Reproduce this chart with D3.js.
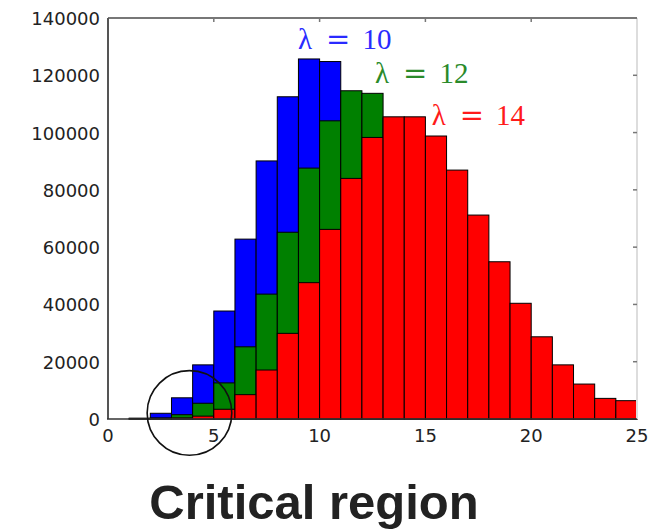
<!DOCTYPE html>
<html>
<head>
<meta charset="utf-8">
<script src="https://cdn.jsdelivr.net/npm/d3@7"></script>
<style>
  body { margin: 0; background: #fff; }
  svg { display: block; }
</style>
</head>
<body>
<div id="chart"></div>
<script>
// histogram bins (left edges, width 1)
var bins = d3.range(0, 25);

// counts per bin (hidden parts estimated)
var lam10 = [0, 300, 2000, 7400, 18900, 37700, 62800, 90100, 112500, 125700, 124800, 113700, 94800, 72900, 52100, 34700, 21700, 12800, 7100, 3700, 1900, 900, 400, 200, 100];
var lam12 = [0, 80, 400, 1500, 5500, 12600, 25200, 43600, 65200, 87600, 104100, 114600, 113700, 105000, 90000, 72000, 54000, 38000, 25500, 16000, 9600, 5500, 3000, 1600, 1100];
var lam14 = [0, 10, 80, 400, 1000, 3400, 8500, 17100, 29900, 47600, 66200, 84000, 98300, 105500, 105500, 98800, 86900, 71200, 54900, 40400, 28700, 18900, 12200, 7200, 6400];

var seriesNames = ["\u03bb = 10", "\u03bb = 12", "\u03bb = 14"];
var seriesColors = ["#0000ff", "#008000", "#ff0000"];
var labelColors = ["#2a2aff", "#2a8a2a", "#ff1a1a"];
// label anchor (data units)
var labelX = [8.98, 12.62, 15.3];
var labelY = [129200, 117300, 102700];

var xTicks = [0, 5, 10, 15, 20, 25];
var yTicks = [0, 20000, 40000, 60000, 80000, 100000, 120000, 140000];

var W = 661, H = 531;
var svg = d3.select("#chart").append("svg").attr("width", W).attr("height", H);
svg.append("rect").attr("width", W).attr("height", H).style("fill", "#fff");

var x = d3.scaleLinear().domain([0, 25]).range([108, 637]);
var y = d3.scaleLinear().domain([0, 140000]).range([419, 18]);

// bars: blue behind, red in front
var all = [lam10, lam12, lam14];
all.forEach(function(vals, si) {
  svg.append("g").selectAll("rect").data(bins).enter()
    .append("rect")
    .attr("x", function(d) { return x(d); })
    .attr("width", function(d) { return x(d + 1) - x(d); })
    .attr("y", function(d) { return y(vals[d]); })
    .attr("height", function(d) { return y(0) - y(vals[d]); })
    .style("fill", seriesColors[si])
    .style("stroke", "#000").style("stroke-width", 1)
    .style("display", function(d) { return vals[d] > 0 ? null : "none"; });
});

// frame
svg.append("line").attr("x1", x(25)).attr("x2", x(25)).attr("y1", y(140000)).attr("y2", y(0))
  .style("stroke", "#ddd").style("stroke-width", 2);
svg.append("line").attr("x1", x(0)).attr("x2", x(25)).attr("y1", y(140000)).attr("y2", y(140000))
  .style("stroke", "#777").style("stroke-width", 2);
svg.append("line").attr("x1", x(0)).attr("x2", x(0)).attr("y1", y(140000)).attr("y2", y(0))
  .style("stroke", "#555").style("stroke-width", 2);
svg.append("line").attr("x1", x(0) - 1).attr("x2", x(25)).attr("y1", y(0)).attr("y2", y(0))
  .style("stroke", "#333").style("stroke-width", 1.5);

// inward ticks on top and right
svg.append("g").selectAll("line").data(xTicks.slice(1, -1)).enter().append("line")
  .attr("x1", function(d) { return x(d); }).attr("x2", function(d) { return x(d); })
  .attr("y1", y(140000)).attr("y2", y(140000) + 4)
  .style("stroke", "#777").style("stroke-width", 1.5);
svg.append("g").selectAll("line").data(yTicks.slice(1, -1)).enter().append("line")
  .attr("x1", x(25) - 4).attr("x2", x(25))
  .attr("y1", function(d) { return y(d); }).attr("y2", function(d) { return y(d); })
  .style("stroke", "#777").style("stroke-width", 1.5);

// tick labels
svg.append("g").selectAll("text").data(yTicks).enter().append("text")
  .attr("x", x(0) - 8).attr("y", function(d) { return y(d) + 7; })
  .attr("text-anchor", "end")
  .style("font-family", "DejaVu Sans, sans-serif").style("font-size", "18px").style("fill", "#222")
  .text(function(d) { return d; });
svg.append("g").selectAll("text").data(xTicks).enter().append("text")
  .attr("x", function(d) { return x(d); }).attr("y", 442)
  .attr("text-anchor", "middle")
  .style("font-family", "DejaVu Sans, sans-serif").style("font-size", "18px").style("fill", "#222")
  .text(function(d) { return d; });

// lambda labels
seriesNames.forEach(function(name, i) {
  var parts = name.split(" ");
  var t = svg.append("text")
    .attr("x", x(labelX[i])).attr("y", y(labelY[i]))
    .style("font-family", "Liberation Serif, serif").style("font-size", "29px")
    .style("fill", labelColors[i]);
  t.append("tspan").text(parts[0]);
  t.append("tspan").attr("dx", 14).style("font-family", "DejaVu Serif, serif").text(parts[1]);
  t.append("tspan").attr("dx", 12).text(parts[2]);
});

// critical region circle
svg.append("circle")
  .attr("cx", x(3.85)).attr("cy", y(2100)).attr("r", x(2) - x(0))
  .style("fill", "none").style("stroke", "#111").style("stroke-width", 1.6);

svg.append("text")
  .attr("x", 314).attr("y", 519).attr("text-anchor", "middle")
  .style("font-family", "Liberation Sans, Arial, sans-serif").style("font-weight", "bold")
  .style("font-size", "49px").style("fill", "#222")
  .text("Critical region");
</script>
</body>
</html>
